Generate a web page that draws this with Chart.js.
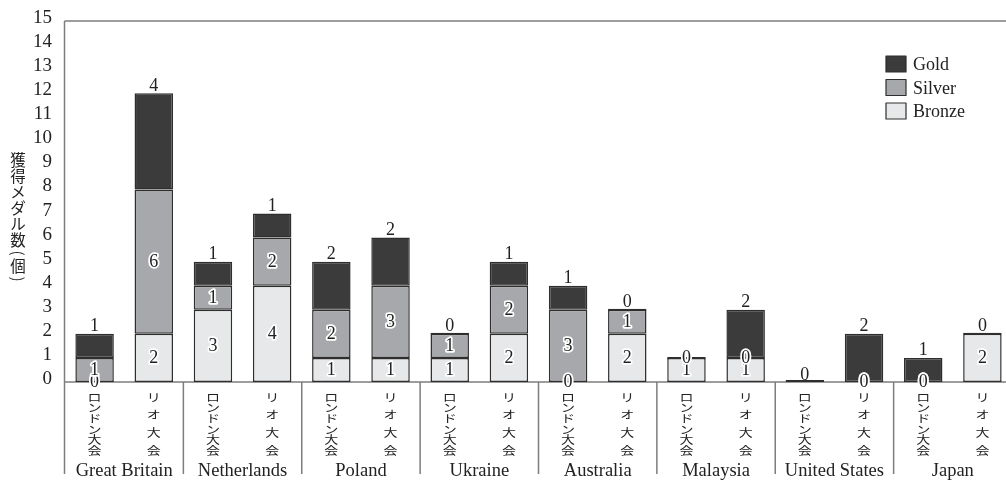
<!DOCTYPE html>
<html>
<head>
<meta charset="utf-8">
<script src="https://cdn.jsdelivr.net/npm/chart.js@4/dist/chart.umd.min.js"></script>
<style>
  html, body { margin: 0; padding: 0; background: #fff; overflow: hidden; }
  canvas { display: block; }
</style>
</head>
<body>
<canvas id="medals" width="1012" height="480"></canvas>
<script>
// Medal counts per country, London 2012 vs Rio 2016
const countries = ['Great Britain', 'Netherlands', 'Poland', 'Ukraine', 'Australia', 'Malaysia', 'United States', 'Japan'];
const games = ['ロンドン大会', 'リオ大会'];
const gold   = [1, 4, 1, 1, 2, 2, 0, 1, 1, 0, 0, 2, 0, 2, 1, 0];
const silver = [1, 6, 1, 2, 2, 3, 1, 2, 3, 1, 0, 0, 0, 0, 0, 0];
const bronze = [0, 2, 3, 4, 1, 1, 1, 2, 0, 2, 1, 1, 0, 0, 0, 2];
const yTicks = [0, 1, 2, 3, 4, 5, 6, 7, 8, 9, 10, 11, 12, 13, 14, 15];
const yTitle = '獲得メダル数(個)';
const seriesNames = ['Gold', 'Silver', 'Bronze'];
// value labels that the printed chart leaves out
const hiddenLabels = ['Gold:10', 'Silver:12', 'Bronze:12', 'Silver:15'];

const categories = [];
countries.forEach(c => games.forEach(g => categories.push(c + ' ' + g)));

const COLORS = { Gold: '#3b3b3b', Silver: '#a7a8ab', Bronze: '#e7e8e9' };
const EDGE = '#2e2e2e';
const FRAME = '#7d7d7d';
const INK = '#222';
const SERIF = '"Liberation Serif", "DejaVu Serif", serif';
const CJK = '"Noto Sans CJK JP", sans-serif';

// stack characters top to bottom, each slightly flattened so long words fit
function drawVertical(ctx, chars, cx, y0, y1, squash) {
  const n = chars.length;
  const step = n > 1 ? (y1 - y0) / (n - 1) : 0;
  for (let i = 0; i < n; i++) {
    ctx.save();
    ctx.translate(cx, y0 + i * step);
    ctx.scale(1, squash);
    ctx.fillText(chars[i], 0, 0);
    ctx.restore();
  }
}

const decor = {
  id: 'decor',
  beforeDatasetsDraw(chart) {
    const { ctx, chartArea: a, scales: { x, y } } = chart;
    const base = y.getPixelForValue(0);
    ctx.save();
    ctx.strokeStyle = FRAME;
    ctx.lineWidth = 1.5;
    ctx.beginPath();
    ctx.moveTo(a.left - 0.5, a.top); ctx.lineTo(a.right + 2, a.top);
    ctx.moveTo(a.left - 0.5, a.top); ctx.lineTo(a.left - 0.5, 474);
    ctx.moveTo(a.left - 0.5, base); ctx.lineTo(a.right + 2, base);
    for (let g = 1; g < countries.length; g++) {
      const bx = (x.getPixelForValue(2 * g - 1) + x.getPixelForValue(2 * g)) / 2;
      ctx.moveTo(bx, base); ctx.lineTo(bx, 474);
    }
    ctx.stroke();
    ctx.restore();
  },
  afterDatasetsDraw(chart) {
    const { ctx, scales: { x, y } } = chart;
    ctx.save();

    // y tick labels
    ctx.fillStyle = INK;
    ctx.font = '19px ' + SERIF;
    ctx.textAlign = 'right';
    ctx.textBaseline = 'alphabetic';
    yTicks.forEach(v => ctx.fillText(String(v), 52, y.getPixelForValue(v) + 2));

    // y axis title, written top to bottom
    ctx.font = '15.5px ' + CJK;
    ctx.textAlign = 'center';
    ctx.textBaseline = 'middle';
    let cursor = 152;
    for (const ch of yTitle) {
      const isParen = ch === '(' || ch === ')';
      const h = isParen ? 10 : 16;
      const cy = cursor + h / 2;
      if (isParen) {
        ctx.save();
        ctx.translate(18, cy);
        ctx.rotate(Math.PI / 2);
        ctx.fillText(ch, 0, 0);
        ctx.restore();
      } else {
        ctx.fillText(ch, 18, cy);
      }
      cursor += h;
    }

    // category labels (vertical) and country names
    ctx.font = '14px ' + CJK;
    categories.forEach((_, i) => {
      const cx = x.getPixelForValue(i);
      drawVertical(ctx, Array.from(games[i % 2]), cx, 397.5, 451, 0.78);
    });
    ctx.font = '18.5px ' + SERIF;
    ctx.textBaseline = 'alphabetic';
    countries.forEach((c, g) => {
      const cx = (x.getPixelForValue(2 * g) + x.getPixelForValue(2 * g + 1)) / 2;
      ctx.fillText(c, cx, 476);
    });

    // value labels
    ctx.font = '18px ' + SERIF;
    ctx.lineJoin = 'round';
    const inner = (txt, cx, cyMid) => {
      ctx.lineWidth = 3.5;
      ctx.strokeStyle = '#fff';
      ctx.strokeText(txt, cx, cyMid + 5);
      ctx.fillStyle = INK;
      ctx.fillText(txt, cx, cyMid + 5);
    };
    categories.forEach((_, i) => {
      const cx = x.getPixelForValue(i);
      const b = bronze[i], s = silver[i], g = gold[i];
      if (!hiddenLabels.includes('Bronze:' + i)) inner(String(b), cx, y.getPixelForValue(b / 2));
      if (!hiddenLabels.includes('Silver:' + i)) inner(String(s), cx, y.getPixelForValue(b + s / 2));
      if (!hiddenLabels.includes('Gold:' + i)) {
        ctx.fillStyle = INK;
        ctx.fillText(String(g), cx, y.getPixelForValue(b + s + g) - 2.5);
      }
    });

    // legend
    ctx.textAlign = 'left';
    ctx.font = '18px ' + SERIF;
    seriesNames.forEach((name, k) => {
      const top = 56 + k * 23.5;
      ctx.fillStyle = COLORS[name];
      ctx.fillRect(886, top, 20, 16);
      ctx.strokeStyle = EDGE;
      ctx.lineWidth = 1.2;
      ctx.strokeRect(886, top, 20, 16);
      ctx.fillStyle = INK;
      ctx.fillText(name, 913, top + 14);
    });
    ctx.restore();
  }
};

const barStyle = {
  borderColor: EDGE,
  borderWidth: 1.5,
  borderSkipped: false,
  categoryPercentage: 1,
  barPercentage: 0.65
};

new Chart(document.getElementById('medals'), {
  type: 'bar',
  data: {
    labels: categories,
    datasets: [
      Object.assign({ label: 'Bronze', data: bronze, backgroundColor: COLORS.Bronze }, barStyle),
      Object.assign({ label: 'Silver', data: silver, backgroundColor: COLORS.Silver }, barStyle),
      Object.assign({ label: 'Gold', data: gold, backgroundColor: COLORS.Gold, minBarLength: 2 }, barStyle)
    ]
  },
  options: {
    responsive: false,
    devicePixelRatio: 1,
    animation: false,
    events: [],
    layout: { padding: { left: 65, top: 21, right: 0, bottom: 98 } },
    plugins: { legend: { display: false }, tooltip: { enabled: false } },
    scales: {
      x: { stacked: true, display: false },
      y: { stacked: true, display: false, min: 0, max: 15 }
    }
  },
  plugins: [decor]
});
</script>
</body>
</html>
